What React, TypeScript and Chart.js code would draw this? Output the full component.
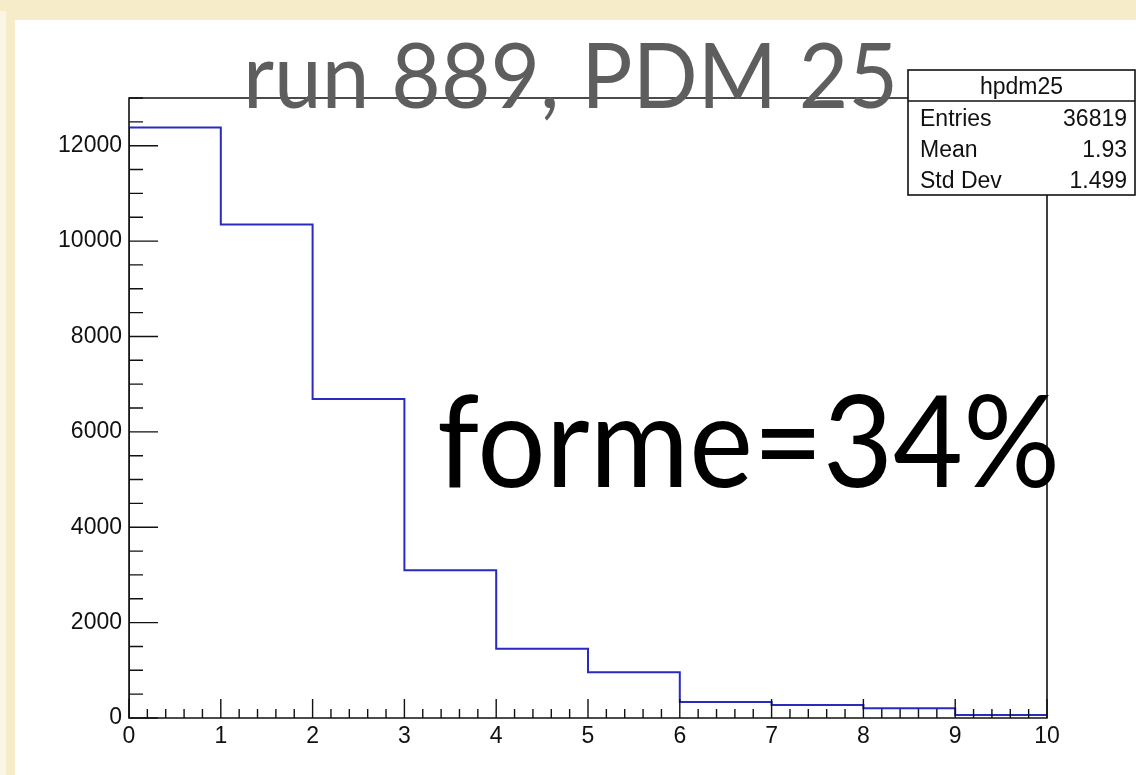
import { useEffect, useRef } from "react";
import { Chart, registerables } from "chart.js";

Chart.register(...registerables);

// Histogram hpdm25: counts per unit-wide bin of PDM multiplicity
const binLowEdges = [0, 1, 2, 3, 4, 5, 6, 7, 8, 9];
const binWidth = 1;
const counts = [12380, 10350, 6690, 3100, 1450, 960, 335, 275, 205, 65];

const xTickValues = [0, 1, 2, 3, 4, 5, 6, 7, 8, 9, 10];
const xTickLabels = ["0", "1", "2", "3", "4", "5", "6", "7", "8", "9", "10"];
const yTickValues = [0, 2000, 4000, 6000, 8000, 10000, 12000];
const yTickLabels = ["0", "2000", "4000", "6000", "8000", "10000", "12000"];

const statsName = "hpdm25";
const statsLabels = ["Entries", "Mean", "Std Dev"];
const statsValues = ["36819", "1.93", "1.499"];

const titleText = "run 889, PDM 25";
const noteText = "forme=34%";

const W = 1136;
const H = 775;
const LABEL_FONT = '"Liberation Sans", Arial, Helvetica, sans-serif';
const BIG_FONT = 'Lato, "Open Sans", sans-serif';

// Draws a string with its left edge at x and baseline at y, squeezed to a given width
function fitText(
  ctx: CanvasRenderingContext2D,
  text: string,
  x: number,
  y: number,
  size: number,
  width: number,
  color: string
) {
  ctx.save();
  ctx.font = `${size}px ${BIG_FONT}`;
  const m = ctx.measureText(text).width;
  ctx.translate(x, y);
  ctx.scale(width / m, 1);
  ctx.fillStyle = color;
  ctx.textAlign = "left";
  ctx.textBaseline = "alphabetic";
  ctx.fillText(text, 0, 0);
  ctx.restore();
}

// ROOT-style frame, inward ticks, stats box and slide annotations
const framePlugin = {
  id: "rootFrame",
  afterDatasetsDraw(chart: any) {
    const { ctx, chartArea } = chart;
    const xs = chart.scales.x;
    const ys = chart.scales.y;
    const { left, right, top, bottom } = chartArea;

    ctx.save();
    ctx.strokeStyle = "#111";
    ctx.lineWidth = 1.6;
    ctx.beginPath();
    ctx.rect(left, top, right - left, bottom - top);
    ctx.stroke();

    ctx.lineWidth = 1.4;
    ctx.beginPath();
    // y axis: major every 2000, minor every 500
    for (let v = 0; v <= ys.max + 1e-6; v += 500) {
      const py = ys.getPixelForValue(v);
      const len = v % 2000 === 0 ? 29 : 14;
      ctx.moveTo(left, py);
      ctx.lineTo(left + len, py);
    }
    // x axis: major every 1, minor every 0.2
    for (let i = 0; i <= 50; i++) {
      const v = i * 0.2;
      const px = xs.getPixelForValue(v);
      const len = i % 5 === 0 ? 19 : 9;
      ctx.moveTo(px, bottom);
      ctx.lineTo(px, bottom - len);
    }
    ctx.stroke();

    // stats box
    const bx = 908;
    const by = 70;
    const bw = 227;
    const bh = 125;
    const hdr = 31;
    ctx.fillStyle = "#fff";
    ctx.fillRect(bx, by, bw, bh);
    ctx.lineWidth = 1.6;
    ctx.strokeStyle = "#111";
    ctx.strokeRect(bx, by, bw, bh);
    ctx.beginPath();
    ctx.moveTo(bx, by + hdr);
    ctx.lineTo(bx + bw, by + hdr);
    ctx.stroke();

    ctx.fillStyle = "#111";
    ctx.font = `23px ${LABEL_FONT}`;
    ctx.textBaseline = "alphabetic";
    ctx.textAlign = "center";
    ctx.fillText(statsName, bx + bw / 2, by + 24);
    const rowBase = [126, 157, 188];
    statsLabels.forEach((lab, i) => {
      ctx.textAlign = "left";
      ctx.fillText(lab, bx + 12, rowBase[i]);
      ctx.textAlign = "right";
      ctx.fillText(statsValues[i], bx + 219, rowBase[i]);
    });
    ctx.restore();

    // slide annotations
    fitText(ctx, titleText, 243, 108, 92, 655, "#5e5e5e");
    fitText(ctx, noteText, 437, 487, 128, 623, "#000");
  },
};

export default function App() {
  const canvasRef = useRef<HTMLCanvasElement | null>(null);

  useEffect(() => {
    const canvas = canvasRef.current;
    if (!canvas) return;

    // step outline: starts and ends on the x axis like a ROOT histogram
    const points: { x: number; y: number }[] = [{ x: binLowEdges[0], y: 0 }];
    binLowEdges.forEach((lo, i) => points.push({ x: lo, y: counts[i] }));
    const lastEdge = binLowEdges[binLowEdges.length - 1] + binWidth;
    points.push({ x: lastEdge, y: counts[counts.length - 1] });
    points.push({ x: lastEdge, y: 0 });

    const chart = new Chart(canvas, {
      type: "line",
      data: {
        datasets: [
          {
            data: points,
            stepped: "before",
            borderColor: "#2a2abf",
            borderWidth: 2,
            pointRadius: 0,
            fill: false,
          },
        ],
      },
      options: {
        responsive: false,
        animation: false,
        devicePixelRatio: 1,
        layout: { padding: { left: 0, top: 98, right: 89, bottom: 0 } },
        plugins: {
          legend: { display: false },
          tooltip: { enabled: false },
          title: { display: false },
        },
        scales: {
          x: {
            type: "linear",
            min: 0,
            max: 10,
            grid: { display: false, drawTicks: false },
            border: { display: false },
            ticks: {
              padding: 5,
              maxRotation: 0,
              autoSkip: false,
              color: "#111",
              font: { family: LABEL_FONT, size: 23 },
              callback: (v: any) => xTickLabels[xTickValues.indexOf(Number(v))] ?? "",
            },
            afterBuildTicks: (scale: any) => {
              scale.ticks = xTickValues.map((value) => ({ value }));
            },
            afterFit: (scale: any) => {
              scale.height = H - 718;
            },
          },
          y: {
            type: "linear",
            min: 0,
            max: 13000,
            grid: { display: false, drawTicks: false },
            border: { display: false },
            ticks: {
              padding: 7,
              autoSkip: false,
              color: "#111",
              font: { family: LABEL_FONT, size: 23 },
              callback: (v: any) => yTickLabels[yTickValues.indexOf(Number(v))] ?? "",
            },
            afterBuildTicks: (scale: any) => {
              scale.ticks = yTickValues.map((value) => ({ value }));
            },
            afterFit: (scale: any) => {
              scale.width = 129;
            },
          },
        },
      },
      plugins: [framePlugin],
    });

    return () => chart.destroy();
  }, []);

  return (
    <div
      style={{
        position: "fixed",
        left: 0,
        top: 0,
        width: W,
        height: H,
        background: "#f6ecc9",
        overflow: "hidden",
      }}
    >
      <div
        style={{
          position: "absolute",
          left: 0,
          top: 11,
          width: 6,
          bottom: 0,
          background: "#fbf6e3",
        }}
      />
      <div
        style={{
          position: "absolute",
          left: 15,
          top: 20,
          right: 0,
          bottom: 0,
          background: "#fff",
        }}
      />
      <canvas
        ref={canvasRef}
        width={W}
        height={H}
        style={{ position: "absolute", left: 0, top: 0, display: "block" }}
      />
    </div>
  );
}
